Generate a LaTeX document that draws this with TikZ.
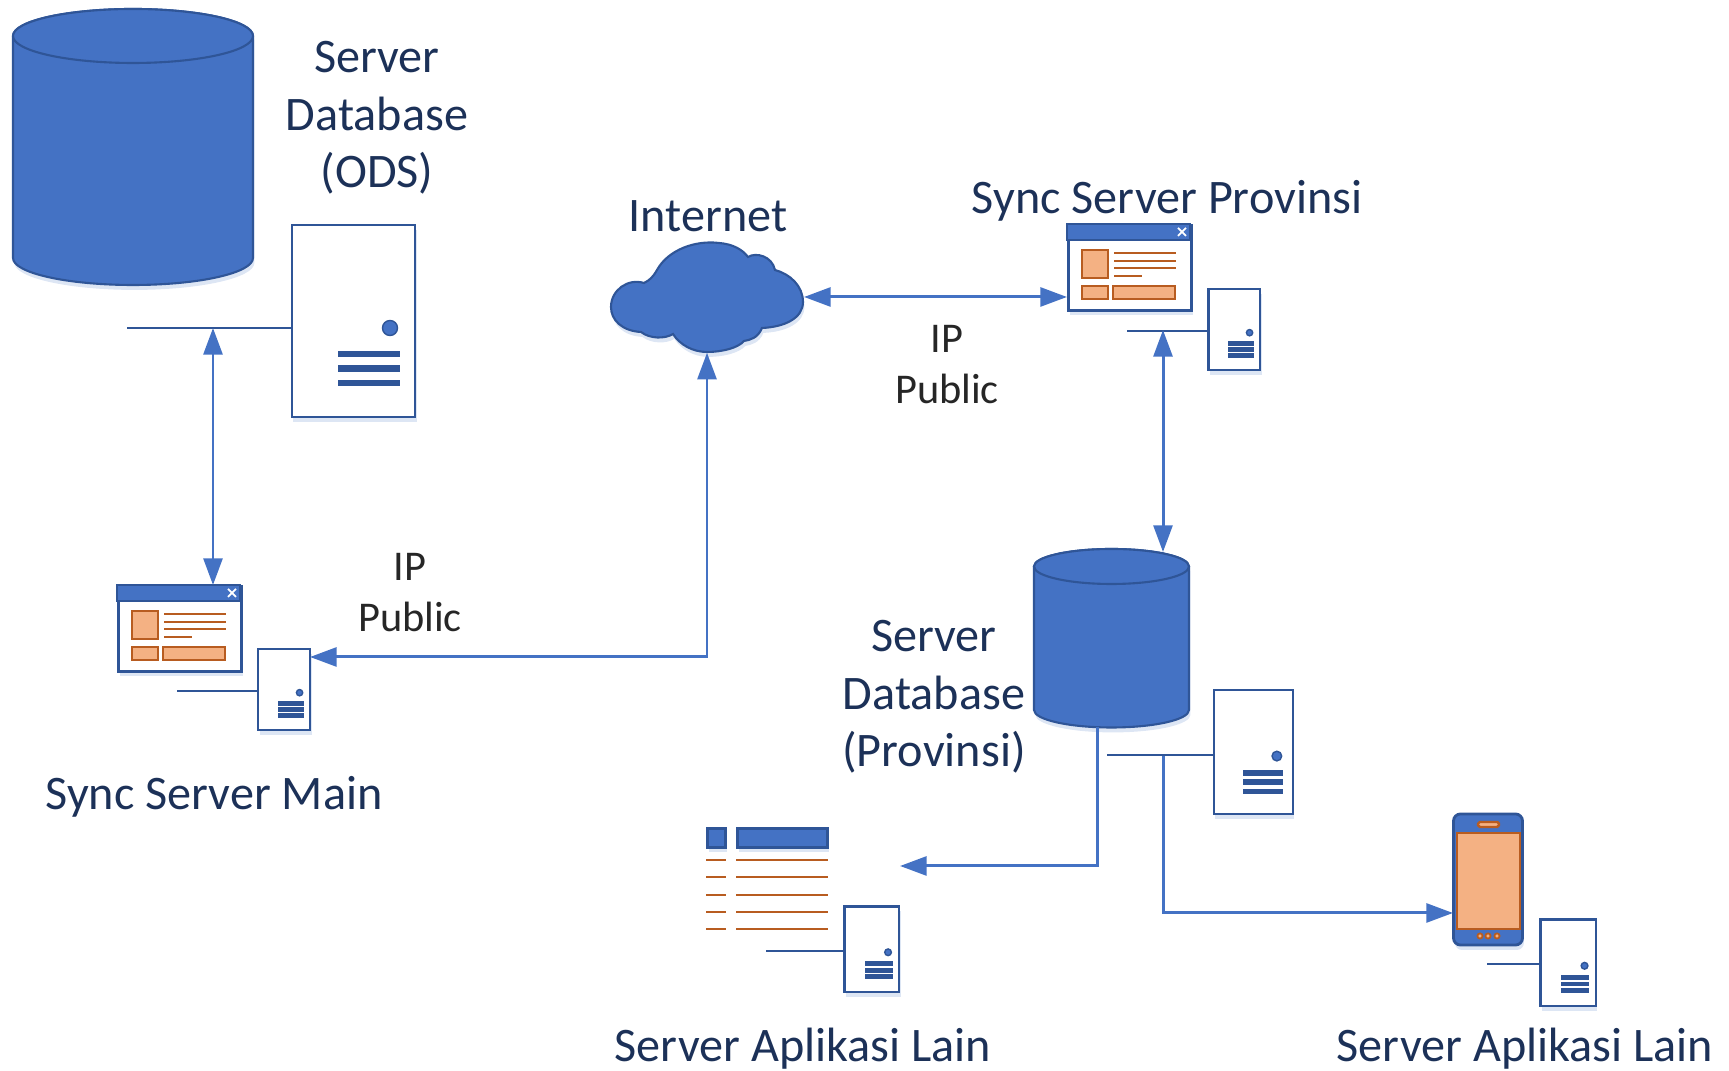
\documentclass[tikz,border=0pt]{standalone}
\usepackage{fontspec}
\setmainfont{Carlito}
\usetikzlibrary{arrows.meta,shadows}
\definecolor{iconblue}{HTML}{4472C4}
\definecolor{edgeblue}{HTML}{2F5597}
\definecolor{paneorange}{HTML}{F4B183}
\definecolor{edgeorange}{HTML}{B85C20}
\definecolor{capnavy}{HTML}{1C3158}
\definecolor{ipgrey}{HTML}{262626}
\tikzset{
  softshade/.style={drop shadow={shadow xshift=0.4pt,shadow yshift=-1.4pt,fill=iconblue,opacity=.18}},
  srvnode/.style={draw=edgeblue,line width=.6pt,fill=white,inner sep=0pt,minimum width=1.23cm,minimum height=1.92cm,softshade},
  srvdot/.style={circle,draw=edgeblue,line width=.4pt,fill=iconblue,inner sep=0pt,minimum size=.15cm},
  srvbar/.style={fill=edgeblue},
  srvwire/.style={edgeblue,line width=.65pt},
  winnode/.style={draw=edgeblue,line width=.8pt,fill=white,inner sep=0pt,minimum width=1.23cm,minimum height=.85cm,softshade},
  pane/.style={draw=edgeorange,line width=.7pt,fill=paneorange},
  paneline/.style={edgeorange,line width=.7pt},
  canshape/.style={draw=edgeblue,line width=.6pt,fill=iconblue},
  anchorbox/.style={inner sep=0pt},
  link/.style={iconblue,line width=.85pt,<->,>={Triangle[length=7.6pt,width=5.4pt]}},
  oneway/.style={iconblue,line width=.85pt,->,>={Triangle[length=7.6pt,width=5.4pt]}},
  caption/.style={text=capnavy,align=center,font=\fontsize{13.7}{16.4}\selectfont},
  iplabel/.style={text=ipgrey,align=center,font=\fontsize{12.05}{14.5}\selectfont}
}
% server tower: name, left, top, scale, length of wire
\newcommand{\srvbox}[5]{%
  \begin{scope}[shift={(#2,#3)},scale=#4]
    \node[srvnode,transform shape,anchor=north west] (#1) at (0,0) {};
    \node[srvdot,transform shape] (#1dot) at (99,104) {};
    \coordinate (#1joint) at (0,{106.7-2.7/#4});
    \foreach \bary in {130,144.5,159}
      \fill[srvbar] (47,{\bary-1.55/#4-1.8}) rectangle (109,{\bary+1.55/#4+1.8});
  \end{scope}
  \draw[srvwire] (#1joint) -- ++(-#5,0) coordinate (#1end);
}
% browser window: name, left, top
\newcommand{\winbox}[3]{%
  \begin{scope}[shift={(#2,#3)}]
    \node[winnode,anchor=north west] (#1) at (0,0) {};
    \draw[draw=edgeblue,line width=.8pt,fill=iconblue] (0,0) rectangle (123,16);
    \draw[white,line width=.5pt] (111,4) -- (119,12) (111,12) -- (119,4);
    \draw[pane] (15,26) rectangle (41,54);
    \draw[pane] (15,62) rectangle (41,75);
    \draw[pane] (46,62) rectangle (108,75);
    \foreach \liney/\lineend in {29/109,37/109,44/109,52/75}
      \draw[paneline] (47,\liney) -- (\lineend,\liney);
  \end{scope}
}
% database drum: name, centre x, half width, top, height of lid, bottom of side
\newcommand{\dbcan}[6]{%
  \path[canshape,softshade] (#2-#3,#4+#5) -- (#2-#3,#6)
    arc[start angle=180,end angle=360,x radius=#3*0.01cm,y radius=#5*0.01cm]
    -- (#2+#3,#4+#5)
    arc[start angle=0,end angle=180,x radius=#3*0.01cm,y radius=#5*0.01cm] -- cycle;
  \draw[canshape] (#2,#4+#5) ellipse[x radius=#3*0.01cm,y radius=#5*0.01cm];
  \node[anchorbox,minimum width=2*#3*0.01cm,minimum height=(#6+#5-#4)*0.01cm] (#1) at (#2,{(#4+#6+#5)/2}) {};
}
\begin{document}
\begin{tikzpicture}[x=0.01cm,y=-0.01cm]
  \useasboundingbox (0,0) rectangle (1729,1071);

  % drums
  \dbcan{dbods}{133}{120}{9}{27}{258}
  \dbcan{dbprov}{1111.5}{77.5}{549}{17.5}{710}

  % cloud
  \path[canshape,softshade] (644,283) .. controls (650,280) and (653,277) .. (657,270)
    .. controls (668,250) and (695,240) .. (719,243)
    .. controls (733,244) and (743,250) .. (748,257)
    .. controls (756,252) and (772,256) .. (775,270)
    .. controls (790,274) and (803,286) .. (803,302)
    .. controls (803,318) and (785,327) .. (762,328)
    .. controls (758,338) and (750,340) .. (744,341)
    .. controls (738,348) and (722,352) .. (707,352)
    .. controls (693,352) and (680,345) .. (673,334)
    .. controls (665,339) and (650,339) .. (641,332)
    .. controls (622,331) and (611,320) .. (611,307)
    .. controls (611,290) and (628,278) .. (644,283) -- cycle;
  \node[anchorbox,minimum width=1.92cm,minimum height=1.10cm] (cloudnet) at (707,297) {};

  % servers and windows
  \srvbox{srvods}{291}{224}{1}{164}
  \srvbox{srvmain}{258}{649}{.42}{81}
  \srvbox{srvsync}{1208}{289}{.42}{81}
  \srvbox{srvdb}{1213}{689}{.645}{106}
  \srvbox{srvapp}{844}{906}{.445}{78}
  \srvbox{srvmob}{1540}{919}{.45}{53}
  \winbox{winmain}{117}{585}
  \winbox{winsync}{1067}{224}

  % table of the other application
  \node[draw=edgeblue,line width=.8pt,fill=iconblue,inner sep=0pt,minimum width=.18cm,minimum height=.19cm,anchor=north west,softshade] (tblkey) at (706,827) {};
  \node[draw=edgeblue,line width=.8pt,fill=iconblue,inner sep=0pt,minimum width=.90cm,minimum height=.19cm,anchor=north west,softshade] (tblhead) at (736,827) {};
  \foreach \rowy in {860,877,895,912,929} {
    \draw[paneline] (706,\rowy) -- (726,\rowy);
    \draw[paneline] (736,\rowy) -- (828,\rowy);
  }

  % phone
  \node[draw=edgeblue,line width=.8pt,fill=iconblue,rounded corners=2pt,inner sep=0pt,minimum width=.69cm,minimum height=1.31cm,softshade] (phone) at (1488,879.5) {};
  \draw[pane] (1457,833) rectangle (1520,929);
  \draw[pane,rounded corners=.5pt] (1478,822) rectangle (1499,827);
  \foreach \btnx in {1480,1488,1497}
    \draw[pane,line width=.5pt] (\btnx,936) circle[radius=2.6];

  % connectors
  \coordinate (odstap) at (213,328);
  \coordinate (mainport) at (310,657);
  \coordinate (synctap) at (1163,330);
  \coordinate (dbroof) at (1163,552);
  \coordinate (dbleg) at (1097,727);
  \coordinate (apptip) at (900,866);
  \coordinate (dbtap) at (1163,756);
  \coordinate (phonetip) at (1453,913);
  \coordinate (cloudport) at (804,297);
  \draw[link] (odstap) -- (odstap |- winmain.north);
  \draw[link] (cloudnet.south) |- (mainport);
  \draw[link] (cloudport) -- (cloudport -| winsync.west);
  \draw[link] (synctap) -- (dbroof);
  \draw[oneway] (dbleg) |- (apptip);
  \draw[oneway] (dbtap) |- (phonetip);

  % labels
  \node[caption] (capods) at (377,118) {Server\\Database\\(ODS)};
  \node[caption] (capnet) at (708,216) {Internet};
  \node[caption] (capsync) at (1167,201) {Sync Server Provinsi};
  \node[caption] (capmain) at (214,797) {Sync Server Main};
  \node[caption] (capdb) at (934,697) {Server\\Database\\(Provinsi)};
  \node[caption] (capapp) at (803,1049) {Server Aplikasi Lain};
  \node[caption] (capmob) at (1525,1049) {Server Aplikasi Lain};
  \node[iplabel] (ipsync) at (947,365) {IP\\Public};
  \node[iplabel] (ipmain) at (410,593) {IP\\Public};
\end{tikzpicture}
\end{document}
